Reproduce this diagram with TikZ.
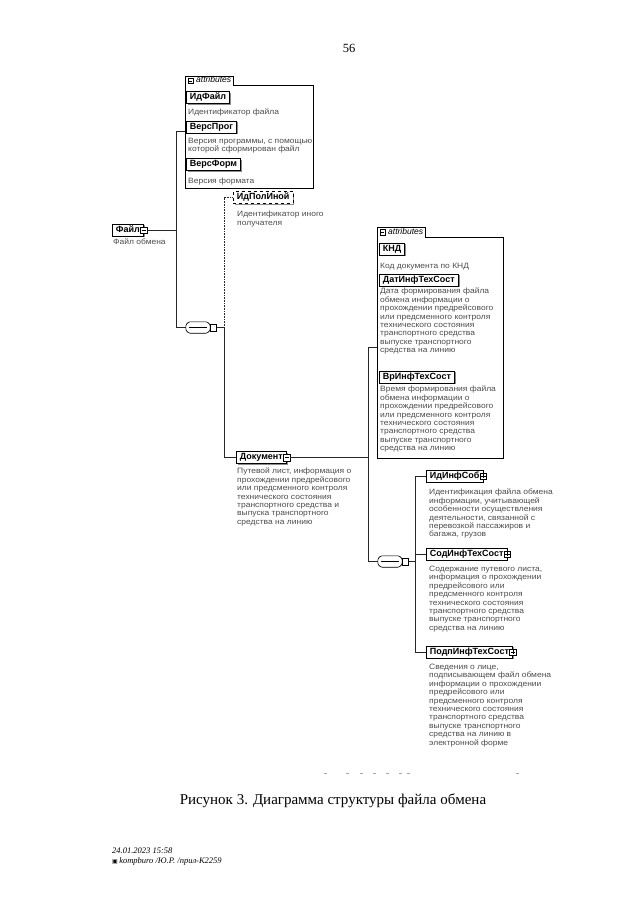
\documentclass[tikz,border=0pt]{standalone}
\usepackage{fontspec}
\setmainfont{Liberation Serif}
\newfontfamily\dgf{Liberation Sans}
\newfontfamily\dgw{Liberation Sans}[FakeStretch=1.1]
\newfontfamily\symf{DejaVu Sans}
\usetikzlibrary{shapes.misc,shadows}
\newcommand\dgminus[1]{\draw[line width=0.5pt] ([xshift=1.3pt]#1.west) -- ([xshift=-1.3pt]#1.east);}
\newcommand\dgplus[1]{\dgminus{#1}\draw[line width=0.5pt] ([yshift=1.3pt]#1.south) -- ([yshift=-1.3pt]#1.north);}
\newcommand\seqpath[1]{([xshift=3pt]#1.north west) -- ([xshift=-3pt]#1.north east) -- ([yshift=-3pt]#1.north east)
  -- ([yshift=3pt]#1.south east) -- ([xshift=-3pt]#1.south east) -- ([xshift=3pt]#1.south west)
  -- ([yshift=3pt]#1.south west) -- ([yshift=-3pt]#1.north west) -- cycle}
\newcommand\seqdraw[1]{%
  \fill[black!40, rounded corners=1.2pt, shift={(1.3pt,-1.5pt)}] \seqpath{#1};
  \draw[line width=0.6pt, fill=white, rounded corners=1.2pt] \seqpath{#1};
  \draw[line width=0.6pt] ([xshift=3.5pt]#1.west) -- ([xshift=-3.5pt]#1.east);
  \foreach \dx in {-2.4,0,2.4} \fill ([xshift=\dx pt]#1.center) ++(-0.8,-0.8) rectangle ++(1.6,1.6);}
\tikzset{
 elem/.style={draw=black, line width=0.8pt, fill=white, font=\dgf\bfseries\fontsize{9}{10}\selectfont,
   inner xsep=3.5pt, inner ysep=0pt, minimum height=12pt, text height=6.6pt, text depth=1.9pt, anchor=west,
   drop shadow={shadow xshift=1.3pt, shadow yshift=-1.3pt, fill=black!45, opacity=1}},
 optelem/.style={elem, dashed},
 desc/.style={font=\dgw\fontsize{7.7}{8.4}\selectfont, text=black!70, align=left, anchor=north west, inner sep=0pt},
 icon/.style={draw, fill=white, line width=0.5pt, minimum size=6.5pt, inner sep=0pt},
 seqbox/.style={minimum width=24pt, minimum height=11pt, inner sep=0pt},
 conn/.style={line width=0.6pt, black!85},
 frame/.style={line width=0.6pt, black},
 tab/.style={font=\dgf\itshape\fontsize{8.5}{9}\selectfont, inner ysep=0pt, inner xsep=2pt, minimum height=9pt,
   anchor=south west, text height=5.6pt, text depth=1.6pt},
 dots/.style={black!35, line width=0.6pt},
}
\begin{document}
\begin{tikzpicture}[x=1pt,y=-1pt]
\useasboundingbox (0,0) rectangle (640,905);
\fill[white] (0,0) rectangle (640,905);

% page number and caption
\node[font=\fontsize{12.5}{14}\selectfont] (pnum) at (349,48) {56};
\node[font=\fontsize{15}{17}\selectfont] (cap) at (333,801) {Рисунок 3. Диаграмма структуры файла обмена};
\node[font=\itshape\fontsize{8.5}{9.5}\selectfont, align=left, anchor=north west, inner sep=0pt] (foot) at (112,848)
  {24.01.2023 15:58\\{\symf\fontsize{6}{9}\selectfont ▣}\,kompburo /Ю.Р. /прил-К2259};

% root element
\node[elem] (fayl) at (112,230) {Файл\hspace{6pt}};
\node[icon] (faylI) at (fayl.east) {};
\dgminus{faylI}
\node[desc] (faylD) at (113,239) {Файл обмена};

% attributes group 1
\node[tab] (a1tab) at (185,85.5) {\hspace{9pt}attributes};
\node[icon, minimum size=5.5pt] (a1tI) at ([xshift=5.5pt]a1tab.west) {};
\dgminus{a1tI}
\node[minimum width=128pt, minimum height=102pt, anchor=north west, inner sep=0pt] (a1) at (185,85.5) {};
\draw[frame] (a1tab.north west) -- (a1tab.north east) -- (a1tab.south east) -- (a1.north east)
  -- (a1.south east) -- (a1.south west) -- cycle;
\node[elem] (idfayl) at (186,97.5) {ИдФайл\hspace{2pt}};
\node[desc] (idfaylD) at (188,109) {Идентификатор файла};
\node[elem] (versprog) at (186,127) {ВерсПрог\hspace{2pt}};
\node[desc] (versprogD) at (188,138) {Версия программы, с помощью\\которой сформирован файл};
\node[elem] (versform) at (186,164.5) {ВерсФорм\hspace{2pt}};
\node[desc] (versformD) at (188,178) {Версия формата};

% sequence 1
\node[seqbox] (seq1) at (198,327.5) {};
\seqdraw{seq1}
\node[icon] (seq1I) at ([xshift=3.2pt]seq1.east) {};
\coordinate (j1) at (176,131);
\coordinate (j2) at (224,327.5);
\draw[conn] (fayl.east -| faylI.east) -- (fayl.east -| j1);
\draw[conn] (a1.west |- j1) -- (j1) |- (seq1.west);
\draw[conn] (seq1I.east) -- (j2);

% optional element
\node[optelem] (idpol) at (233,197.5) {ИдПолИной};
\node[desc] (idpolD) at (237,211) {Идентификатор иного\\получателя};
\draw[conn, densely dotted] (j2) |- (idpol.west);

% Документ
\node[elem] (dok) at (236,457.5) {Документ\hspace{6pt}};
\node[icon] (dokI) at (dok.east) {};
\dgminus{dokI}
\node[desc] (dokD) at (237,468) {Путевой лист, информация о\\прохождении предрейсового\\или предсменного контроля\\технического состояния\\транспортного средства и\\выпуска транспортного\\средства на линию};
\draw[conn] (j2) |- (dok.west);

% attributes group 2
\node[tab] (a2tab) at (377,237) {\hspace{9pt}attributes};
\node[icon, minimum size=5.5pt] (a2tI) at ([xshift=5.5pt]a2tab.west) {};
\dgminus{a2tI}
\node[minimum width=126pt, minimum height=221pt, anchor=north west, inner sep=0pt] (a2) at (377,237) {};
\draw[frame] (a2tab.north west) -- (a2tab.north east) -- (a2tab.south east) -- (a2.north east)
  -- (a2.south east) -- (a2.south west) -- cycle;
\node[elem] (knd) at (379,249) {КНД\hspace{3pt}};
\node[desc] (kndD) at (380,263) {Код документа по КНД};
\node[elem] (dat) at (379,280) {ДатИнфТехСост};
\node[desc] (datD) at (380,288) {Дата формирования файла\\обмена информации о\\прохождении предрейсового\\или предсменного контроля\\технического состояния\\транспортного средства\\выпуске транспортного\\средства на линию};
\node[elem] (vr) at (379,377) {ВрИнфТехСост};
\node[desc] (vrD) at (380,386) {Время формирования файла\\обмена информации о\\прохождении предрейсового\\или предсменного контроля\\технического состояния\\транспортного средства\\выпуске транспортного\\средства на линию};

% sequence 2
\node[seqbox] (seq2) at (390,561.5) {};
\seqdraw{seq2}
\node[icon] (seq2I) at ([xshift=3.2pt]seq2.east) {};
\coordinate (j3) at (368,347);
\coordinate (j4) at (415,561.5);
\draw[conn] (dokI.east) -- (dok.east -| j3);
\draw[conn] (a2.west |- j3) -- (j3) |- (seq2.west);
\draw[conn] (seq2I.east) -- (j4);

% children of sequence 2
\node[elem] (idinf) at (426,476) {ИдИнфСоб\hspace{5pt}};
\node[icon] (idinfI) at (idinf.east) {};
\dgplus{idinfI}
\node[desc] (idinfD) at (429,489) {Идентификация файла обмена\\информации, учитывающей\\особенности осуществления\\деятельности, связанной с\\перевозкой пассажиров и\\багажа, грузов};
\node[elem] (sod) at (426,554) {СодИнфТехСост\hspace{5pt}};
\node[icon] (sodI) at (sod.east) {};
\dgplus{sodI}
\node[desc] (sodD) at (429,566) {Содержание путевого листа,\\информация о прохождении\\предрейсового или\\предсменного контроля\\технического состояния\\транспортного средства\\выпуске транспортного\\средства на линию};
\node[elem] (podp) at (426,652) {ПодпИнфТехСост\hspace{5pt}};
\node[icon] (podpI) at (podp.east) {};
\dgplus{podpI}
\node[desc] (podpD) at (429,664) {Сведения о лице,\\подписывающем файл обмена\\информации о прохождении\\предрейсового или\\предсменного контроля\\технического состояния\\транспортного средства\\выпуске транспортного\\средства на линию в\\электронной форме};
\draw[conn] (j4 |- idinf.west) -- (j4 |- podp.west);
\draw[conn] (j4 |- idinf.west) -- (idinf.west);
\draw[conn] (j4 |- sod.west) -- (sod.west);
\draw[conn] (j4 |- podp.west) -- (podp.west);

% faint scan remnants
\foreach \x in {324,346,360,373,386,399,407,516} \draw[dots] (\x,773) -- ++(2.5,0);
\end{tikzpicture}
\end{document}
